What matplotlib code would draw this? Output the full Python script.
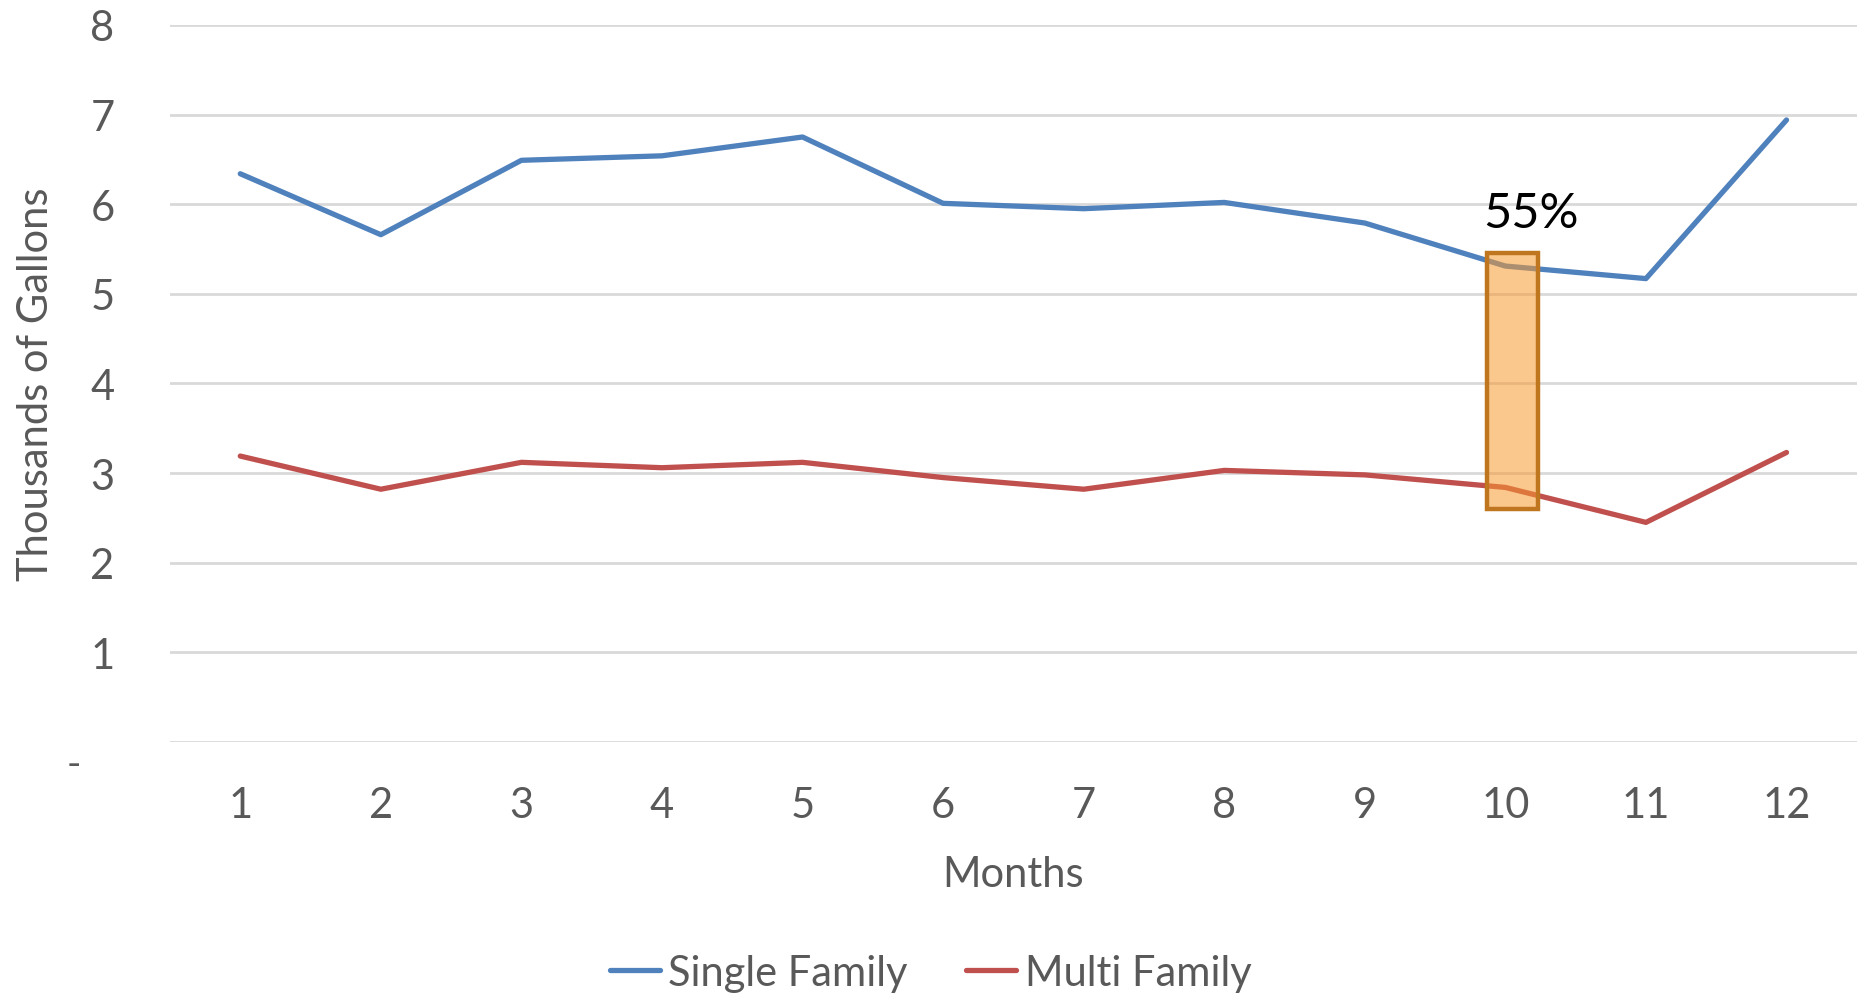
import matplotlib
matplotlib.use('Agg')
from matplotlib import pyplot as plt
from matplotlib.patches import Rectangle

plt.rcParams['font.family'] = ['Lato', 'DejaVu Sans']

# datos
meses = [1, 2, 3, 4, 5, 6, 7, 8, 9, 10, 11, 12]
single_family = [6.34, 5.66, 6.49, 6.54, 6.75, 6.01, 5.95, 6.02, 5.79, 5.31, 5.17, 6.94]
multi_family = [3.19, 2.82, 3.12, 3.06, 3.12, 2.95, 2.82, 3.03, 2.98, 2.84, 2.45, 3.23]
yticks = [0, 1, 2, 3, 4, 5, 6, 7, 8]
ytick_labels = ['', '1', '2', '3', '4', '5', '6', '7', '8']

# caja resaltada en el mes 10
caja_mes = 10.05
caja_ancho = 0.36
caja_abajo = 2.60
caja_arriba = 5.46
etiqueta = '55%'

gris = '#595959'

fig = plt.figure(figsize=(18.68, 9.95), dpi=100)
ax = fig.add_axes([0.091, 0.2533, 0.903, 0.7206])

ax.plot(meses, single_family, color='#4F81BD', lw=3.8, label='Single Family', solid_capstyle='round', zorder=3)
ax.plot(meses, multi_family, color='#C0504D', lw=3.8, label='Multi Family', solid_capstyle='round', zorder=3)

ax.add_patch(Rectangle((caja_mes - caja_ancho / 2, caja_abajo), caja_ancho, caja_arriba - caja_abajo,
                       facecolor=(0.97, 0.60, 0.19, 0.55), edgecolor='#C0761E', lw=3.2, zorder=4))
ax.text(caja_mes + 0.13, 5.9, etiqueta, fontsize=35, color='black', ha='center', va='center', zorder=5)

ax.set_xlim(0.5, 12.5)
ax.set_ylim(0, 8)
ax.set_xticks(meses)
ax.set_xticklabels([str(m) for m in meses])
ax.set_yticks(yticks)
ax.set_yticklabels(ytick_labels)
ax.text(-0.053, -0.005, '-', transform=ax.transAxes, fontsize=28, color=gris, ha='right', va='top')

ax.grid(axis='y', color='#D9D9D9', lw=2)
ax.set_axisbelow(True)
for s in ax.spines.values():
    s.set_visible(False)
ax.tick_params(length=0, labelsize=30, colors=gris)
ax.tick_params(axis='y', pad=40)
ax.tick_params(axis='x', pad=32)

ax.set_xlabel('Months', fontsize=30, color=gris, labelpad=22)
ax.set_ylabel('Thousands of Gallons', fontsize=30, color=gris)
ax.yaxis.set_label_coords(-0.068, 0.5)

ax.legend(loc='center', bbox_to_anchor=(0.451, -0.322), ncol=2, frameon=False, fontsize=30,
          labelcolor=gris, handlelength=1.2, handletextpad=0.2, columnspacing=1.4)

fig.savefig('out.png', dpi=100)
